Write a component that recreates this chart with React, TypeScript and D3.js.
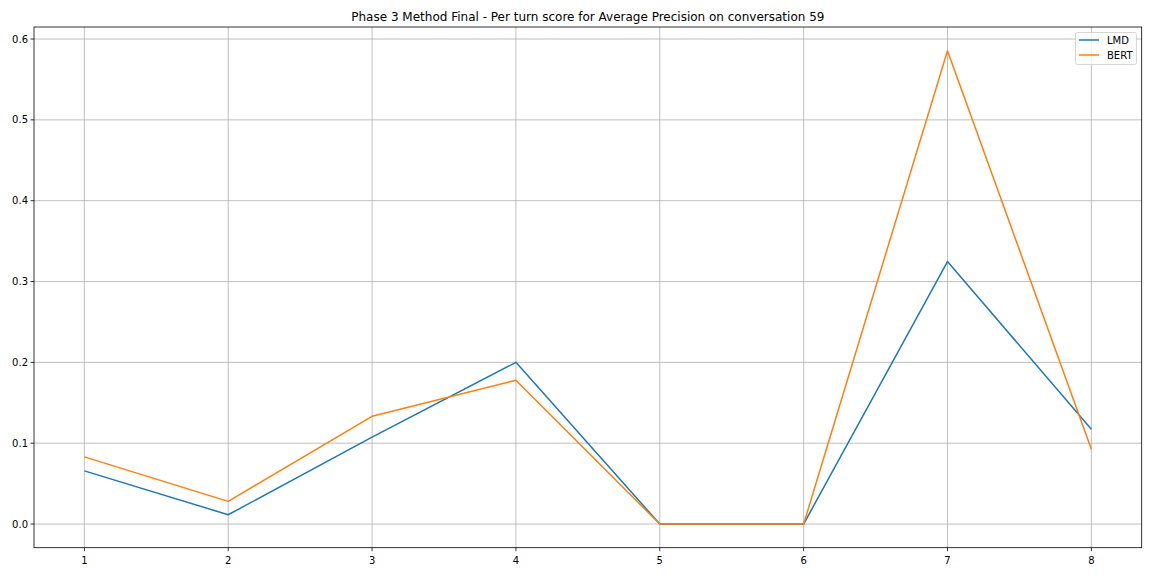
import React from "react";
import * as d3 from "d3";

const turns = [1, 2, 3, 4, 5, 6, 7, 8];
const lmd = [0.0658, 0.0115, 0.1076, 0.2, 0, 0, 0.3247, 0.1173];
const bert = [0.0831, 0.028, 0.1333, 0.1778, 0, 0, 0.5856, 0.0926];
const yTicks = [0, 0.1, 0.2, 0.3, 0.4, 0.5, 0.6];
const seriesNames = ["LMD", "BERT"];
const colors = ["#1f77b4", "#ff7f0e"];
const title = "Phase 3 Method Final - Per turn score for Average Precision on conversation 59";

export default function App() {
  const W = 1152, H = 576;
  const left = 34, right = 1141.7, top = 27, bottom = 547.7;
  const all = [...lmd, ...bert];
  const ymin = Math.min(...all), ymax = Math.max(...all);
  const yr = ymax - ymin;
  const x = d3.scaleLinear().domain([1 - 0.35, 8 + 0.35]).range([left, right]);
  const y = d3.scaleLinear().domain([ymin - 0.05 * yr, ymax + 0.05 * yr]).range([bottom, top]);
  const line = d3.line<number>().x((_, i) => x(turns[i])).y((d) => y(d));
  const series = [lmd, bert];
  const font = "DejaVu Sans, sans-serif";
  return (
    <svg width={W} height={H} style={{ position: "absolute", left: 0, top: 0, background: "#fff" }} fontFamily={font}>
      <rect x={0} y={0} width={W} height={H} fill="#fff" />
      <text x={(left + right) / 2} y={21} textAnchor="middle" fontSize={12} fill="#000">{title}</text>
      {turns.map((t) => (
        <g key={"x" + t}>
          <line x1={x(t)} x2={x(t)} y1={top} y2={bottom} stroke="#b0b0b0" strokeWidth={0.8} />
          <line x1={x(t)} x2={x(t)} y1={bottom} y2={bottom + 3.5} stroke="#000" strokeWidth={0.8} />
          <text x={x(t)} y={bottom + 16} textAnchor="middle" fontSize={10} fill="#000">{t}</text>
        </g>
      ))}
      {yTicks.map((t) => (
        <g key={"y" + t}>
          <line x1={left} x2={right} y1={y(t)} y2={y(t)} stroke="#b0b0b0" strokeWidth={0.8} />
          <line x1={left - 3.5} x2={left} y1={y(t)} y2={y(t)} stroke="#000" strokeWidth={0.8} />
          <text x={left - 6} y={y(t)} dy="0.35em" textAnchor="end" fontSize={10} fill="#000">{t.toFixed(1)}</text>
        </g>
      ))}
      {series.map((s, i) => (
        <path key={i} d={line(s) || ""} fill="none" stroke={colors[i]} strokeWidth={1.5} strokeLinejoin="round" />
      ))}
      <rect x={left} y={top} width={right - left} height={bottom - top} fill="none" stroke="#000" strokeWidth={0.8} />
      <g>
        <rect x={1075.5} y={32.5} width={61} height={32} rx={2} fill="#fff" fillOpacity={0.8} stroke="#cccccc" strokeWidth={0.8} />
        {seriesNames.map((n, i) => (
          <g key={n}>
            <line x1={1079} x2={1099} y1={40 + i * 15} y2={40 + i * 15} stroke={colors[i]} strokeWidth={1.5} />
            <text x={1107} y={40 + i * 15} dy="0.35em" fontSize={10} fill="#000">{n}</text>
          </g>
        ))}
      </g>
    </svg>
  );
}
